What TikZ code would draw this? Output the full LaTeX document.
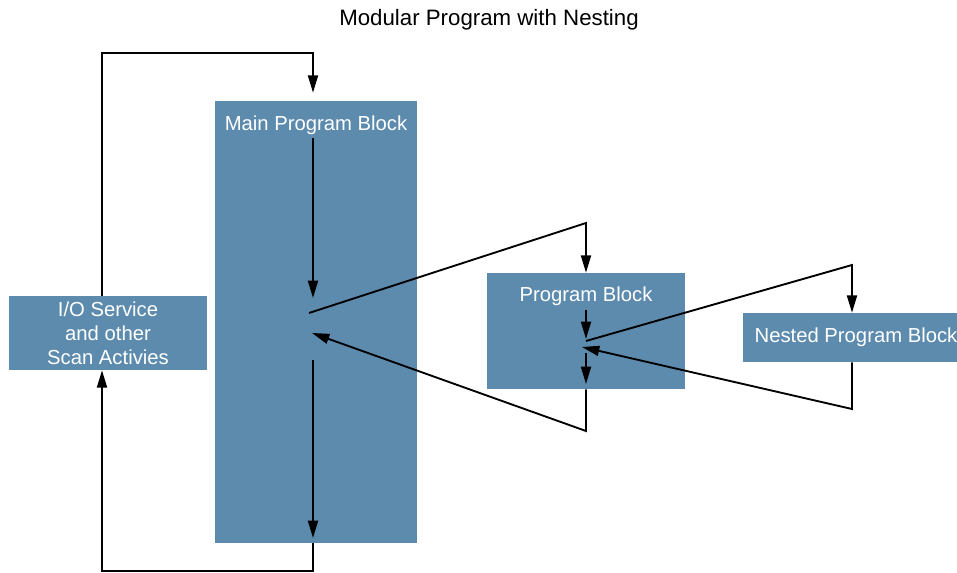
\documentclass[tikz,border=0pt]{standalone}
\usepackage{fontspec}
\setmainfont{Liberation Sans}
\usetikzlibrary{arrows.meta,positioning,calc}
\definecolor{blockblue}{RGB}{92,139,174}

\begin{document}
\begin{tikzpicture}[
    x=0.75pt, y=-0.75pt,
    blk/.style={rectangle, draw=none, fill=blockblue, text=white, align=center,
                inner sep=0pt, font=\fontsize{15.2}{18}\selectfont},
    lbl/.style={text=white, inner sep=0pt, font=\fontsize{15.2}{18}\selectfont},
    flow/.style={-{Triangle[length=13pt, width=7.5pt]}, line width=1.4pt}
]
\useasboundingbox (0,0) rectangle (957,573);
\node[font=\fontsize{16.7}{20}\selectfont] (title) at (489,20) {Modular Program with Nesting};
% blocks
\node[blk, minimum width=151.5pt, minimum height=331.5pt] (main) at (316,322) {};
\node[lbl] (mainlbl) at (316,125) {Main Program Block};
\node[blk, minimum width=148.5pt, minimum height=55.5pt] (io) at (108,333) {I/O Service\\and other\\Scan Activies};
\node[blk, minimum width=148.5pt, minimum height=87pt] (prog) at (586,331) {};
\node[lbl] (proglbl) at (586,296) {Program Block};
\node[blk, minimum width=169.5pt, minimum height=36.75pt] (nested) at (856,337.5) {Nested Program Block};
% scan loop
\coordinate (loopTL) at (102,53);
\coordinate (loopTR) at (313,53);
\coordinate (loopBR) at (313,571);
\coordinate (loopBL) at (102,571);
\draw[flow, shorten >=6pt] (io.north -| loopTL) -- (loopTL) -- (loopTR) -- (main.north -| loopTR);
\draw[flow] (main.south -| loopBR) -- (loopBR) -- (loopBL) -- (io.south -| loopBL);
% main program block
\coordinate (mainTop) at (313,138);
\coordinate (mainCall) at (313,298);
\coordinate (mainOut) at (309,313);
\coordinate (mainRet) at (312,333);
\coordinate (mainResume) at (313,360);
\coordinate (mainEnd) at (313,538);
\coordinate (progTR) at (586,223);
\coordinate (progBR) at (586,431);
\draw[flow] (mainTop) -- (mainCall);
\draw[flow] (mainOut) -- (progTR) -- (prog.north);
\draw[flow] (prog.south) -- (progBR) -- (mainRet);
\draw[flow] (mainResume) -- (mainEnd);
% program block
\coordinate (progTop) at (586,310);
\coordinate (progCall) at (586,339);
\coordinate (progOut) at (586,341);
\coordinate (progRet) at (582,347);
\coordinate (progResume) at (586,353);
\coordinate (progEnd) at (586,384);
\coordinate (nestTR) at (852,265);
\coordinate (nestBR) at (852,409);
\draw[flow] (progTop) -- (progCall);
\draw[flow] (progOut) -- (nestTR) -- (nested.north -| nestTR);
\draw[flow] (nested.south -| nestBR) -- (nestBR) -- (progRet);
\draw[flow] (progResume) -- (progEnd);
\end{tikzpicture}
\end{document}
